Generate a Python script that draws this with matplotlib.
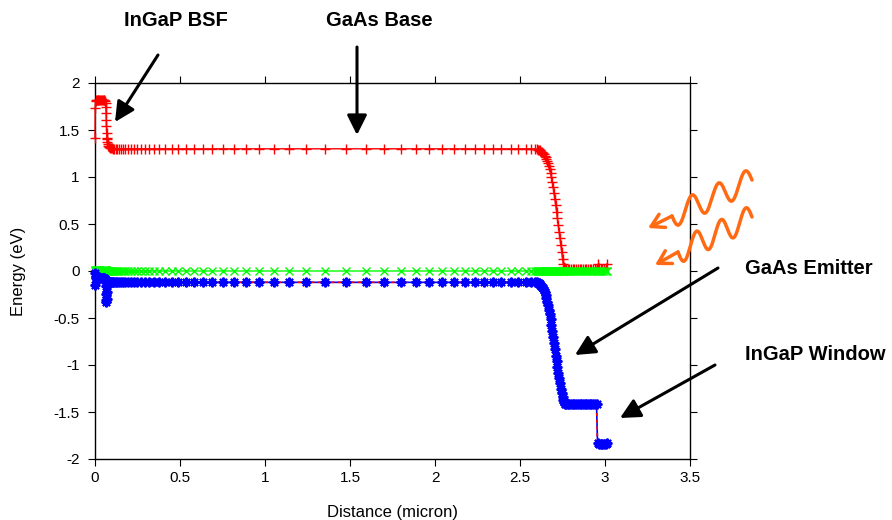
import numpy as np
import matplotlib
matplotlib.use('Agg')
import matplotlib.pyplot as plt
from matplotlib.lines import Line2D
from matplotlib.patches import FancyArrowPatch

plt.rcParams['font.family'] = ['Liberation Sans', 'DejaVu Sans']
plt.rcParams['axes.unicode_minus'] = False

# mesh + band values, per region
# InGaP BSF
x_bsf = [0.000, 0.001, 0.003, 0.006, 0.010, 0.015, 0.020, 0.025, 0.030, 0.035, 0.040, 0.045,
         0.050, 0.055, 0.060, 0.062, 0.064, 0.065, 0.066, 0.067, 0.068, 0.069, 0.070]
ec_bsf = [1.42, 1.73, 1.81, 1.82, 1.82, 1.82, 1.82, 1.82, 1.82, 1.82, 1.82, 1.82,
          1.82, 1.82, 1.81, 1.79, 1.74, 1.68, 1.61, 1.54, 1.47, 1.42, 1.40]
ev_bsf = [-0.15, -0.02, -0.06, -0.07, -0.07, -0.07, -0.07, -0.07, -0.07, -0.07, -0.07, -0.07,
          -0.07, -0.07, -0.08, -0.10, -0.16, -0.24, -0.31, -0.33, -0.30, -0.22, -0.15]
ef_bsf = [0.00, 0.01, 0.01, 0.01, 0.01, 0.01, 0.01, 0.01, 0.01, 0.01, 0.01, 0.01,
          0.01, 0.01, 0.01, 0.01, 0.01, 0.00, 0.00, 0.00, 0.00, 0.00, 0.00]

# GaAs base
x_base = [0.072, 0.074, 0.077, 0.080, 0.084, 0.089, 0.094, 0.100, 0.107, 0.114, 0.122, 0.131,
          0.141, 0.152, 0.164, 0.178, 0.193, 0.210, 0.228, 0.248, 0.270, 0.294, 0.320, 0.348,
          0.379, 0.413, 0.450, 0.490, 0.534, 0.582, 0.634, 0.690, 0.751, 0.817, 0.888, 0.964,
          1.050, 1.142, 1.240, 1.355, 1.476, 1.594, 1.700, 1.800, 1.888, 1.965, 2.041, 2.110,
          2.175, 2.235, 2.290, 2.340, 2.390, 2.445, 2.490, 2.535, 2.565, 2.590]
ec_base = [1.37, 1.35, 1.335, 1.325, 1.317, 1.311, 1.307, 1.304, 1.302, 1.301, 1.30, 1.30,
           1.30, 1.30, 1.30, 1.30, 1.30, 1.30, 1.30, 1.30, 1.30, 1.30, 1.30, 1.30,
           1.30, 1.30, 1.30, 1.30, 1.30, 1.30, 1.30, 1.30, 1.30, 1.30, 1.30, 1.30,
           1.30, 1.30, 1.30, 1.30, 1.30, 1.30, 1.30, 1.30, 1.30, 1.30, 1.30, 1.30,
           1.30, 1.30, 1.30, 1.30, 1.30, 1.30, 1.30, 1.30, 1.30, 1.298]
ev_base = [-0.13, -0.125, -0.122, -0.12, -0.12, -0.12, -0.12, -0.12, -0.12, -0.12, -0.12, -0.12,
           -0.12, -0.12, -0.12, -0.12, -0.12, -0.12, -0.12, -0.12, -0.12, -0.12, -0.12, -0.12,
           -0.12, -0.12, -0.12, -0.12, -0.12, -0.12, -0.12, -0.12, -0.12, -0.12, -0.12, -0.12,
           -0.12, -0.12, -0.12, -0.12, -0.12, -0.12, -0.12, -0.12, -0.12, -0.12, -0.12, -0.12,
           -0.12, -0.12, -0.12, -0.12, -0.12, -0.12, -0.12, -0.12, -0.12, -0.121]
ef_base = [0.00, 0.00, 0.00, 0.00, 0.00, 0.00, 0.00, 0.00, 0.00, 0.00, 0.00, 0.00,
           0.00, 0.00, 0.00, 0.00, 0.00, 0.00, 0.00, 0.00, 0.00, 0.00, 0.00, 0.00,
           0.00, 0.00, 0.00, 0.00, 0.00, 0.00, 0.00, 0.00, 0.00, 0.00, 0.00, 0.00,
           0.00, 0.00, 0.00, 0.00, 0.00, 0.00, 0.00, 0.00, 0.00, 0.00, 0.00, 0.00,
           0.00, 0.00, 0.00, 0.00, 0.00, 0.00, 0.00, 0.00, 0.00, 0.00]

# p-n junction (dense mesh)
x_junc = [2.600, 2.605, 2.610, 2.615, 2.620, 2.625, 2.630, 2.635, 2.640, 2.645, 2.650, 2.655,
          2.660, 2.665, 2.670, 2.675, 2.680, 2.685, 2.690, 2.695, 2.700, 2.705, 2.710, 2.715,
          2.720, 2.725, 2.730, 2.735, 2.740, 2.745, 2.750, 2.755, 2.760, 2.765, 2.770]
ec_junc = [1.295, 1.292, 1.288, 1.283, 1.277, 1.270, 1.262, 1.252, 1.240, 1.226, 1.210, 1.192,
           1.170, 1.145, 1.115, 1.080, 1.040, 0.995, 0.945, 0.890, 0.830, 0.765, 0.700, 0.630,
           0.560, 0.490, 0.420, 0.350, 0.280, 0.205, 0.130, 0.075, 0.045, 0.032, 0.025]
ev_junc = [-0.122, -0.125, -0.130, -0.137, -0.146, -0.157, -0.170, -0.186, -0.205, -0.228, -0.255, -0.288,
           -0.325, -0.365, -0.410, -0.460, -0.515, -0.575, -0.640, -0.705, -0.770, -0.835, -0.900, -0.960,
           -1.020, -1.080, -1.140, -1.195, -1.250, -1.300, -1.345, -1.375, -1.395, -1.410, -1.415]
ef_junc = [0.00, 0.00, 0.00, 0.00, 0.00, 0.00, 0.00, 0.00, 0.00, 0.00, 0.00, 0.00,
           0.00, 0.00, 0.00, 0.00, 0.00, 0.00, 0.00, 0.00, 0.00, 0.00, 0.00, 0.00,
           0.00, 0.00, 0.00, 0.00, 0.00, 0.00, 0.00, 0.00, 0.00, 0.00, 0.00]

# GaAs emitter
x_emit = [2.780, 2.790, 2.800, 2.810, 2.820, 2.830, 2.840, 2.850, 2.860,
          2.870, 2.880, 2.890, 2.900, 2.910, 2.920, 2.930, 2.940, 2.950]
ec_emit = [0.02, 0.02, 0.02, 0.02, 0.02, 0.02, 0.02, 0.02, 0.02,
           0.02, 0.02, 0.02, 0.02, 0.02, 0.02, 0.02, 0.02, 0.02]
ev_emit = [-1.42, -1.42, -1.42, -1.42, -1.42, -1.42, -1.42, -1.42, -1.42,
           -1.42, -1.42, -1.42, -1.42, -1.42, -1.42, -1.42, -1.42, -1.41]
ef_emit = [0.00, 0.00, 0.00, 0.00, 0.00, 0.00, 0.00, 0.00, 0.00,
           0.00, 0.00, 0.00, 0.00, 0.00, 0.00, 0.00, 0.00, 0.00]

# InGaP window
x_win = [2.956, 2.965, 2.975, 2.985, 2.995, 3.005, 3.012]
ec_win = [0.07, 0.03, 0.02, 0.02, 0.02, 0.03, 0.07]
ev_win = [-1.83, -1.84, -1.84, -1.84, -1.84, -1.84, -1.83]
ef_win = [0.00, 0.00, 0.00, 0.00, 0.00, 0.00, 0.00]

xticks = [0, 0.5, 1, 1.5, 2, 2.5, 3, 3.5]
xtick_labels = ['0', '0.5', '1', '1.5', '2', '2.5', '3', '3.5']
yticks = [2, 1.5, 1, 0.5, 0, -0.5, -1, -1.5, -2]
ytick_labels = ['2', '1.5', '1', '0.5', '0', '-0.5', '-1', '-1.5', '-2']

x = np.array(x_bsf + x_base + x_junc + x_emit + x_win)
ec = np.array(ec_bsf + ec_base + ec_junc + ec_emit + ec_win)
ev = np.array(ev_bsf + ev_base + ev_junc + ev_emit + ev_win)
ef = np.array(ef_bsf + ef_base + ef_junc + ef_emit + ef_win)

W, H = 892, 520
fig = plt.figure(figsize=(W / 100, H / 100), dpi=100)
ax = fig.add_axes([95 / W, 1 - 459 / H, (690 - 95) / W, (459 - 83) / H])

ax.plot(x, ec, color='red', lw=1.0, marker='+', ms=7, mew=1.0, zorder=3, clip_on=False)
ax.plot(x, ef, color='#00ff00', lw=1.0, marker='x', ms=6, mew=1.0, zorder=4, clip_on=False)
ax.plot(x, ev, color='blue', lw=1.2, zorder=5, clip_on=False)
ax.plot(x, ev, color='red', lw=1.2, ls=(0, (2, 2)), zorder=5, clip_on=False)
ax.plot(x, ev, ls='none', color='blue', marker=(8, 2, 0), ms=7, mew=1.5, zorder=6, clip_on=False)

ax.set_xlim(0, 3.5)
ax.set_ylim(-2, 2)
ax.set_xticks(xticks)
ax.set_xticklabels(xtick_labels)
ax.set_yticks(yticks)
ax.set_yticklabels(ytick_labels)
ax.tick_params(direction='out', length=5, width=0.8, top=True, right=True, labelsize=11)
ax.tick_params(axis='y', pad=6)
ax.tick_params(axis='x', pad=4)
for s in ax.spines.values():
    s.set_linewidth(1.0)
ax.set_xlabel('Distance (micron)', fontsize=12, labelpad=14)
ax.set_ylabel('Energy (eV)', fontsize=12, labelpad=20)


def fp(px, py):
    return (px / W, 1 - py / H)


def label(px, py, txt, ha='center'):
    fig.text(px / W, 1 - py / H, txt, ha=ha, va='center', fontsize=14.5, fontweight='bold')


def arrow(tail, head):
    fig.add_artist(FancyArrowPatch(fp(*tail), fp(*head), transform=fig.transFigure,
                                   arrowstyle='-|>,head_length=0.8,head_width=0.4',
                                   mutation_scale=15, lw=2.2, color='black',
                                   shrinkA=0, shrinkB=0))


label(176, 20, 'InGaP BSF')
label(379, 20, 'GaAs Base')
label(745, 268, 'GaAs Emitter', ha='left')
label(745, 355, 'InGaP Window', ha='left')
arrow((158, 55), (115, 122))
arrow((357, 47), (357, 135))
arrow((718, 268), (575, 355))
arrow((715, 365), (620, 418))

orange = '#ff6a12'


def wave(a, b, head, amp=12, periods=3):
    t = np.linspace(0, 1, 300)
    xs = a[0] + (b[0] - a[0]) * t
    ys = a[1] + (b[1] - a[1]) * t - amp * np.sin(2 * np.pi * periods * t)
    fig.add_artist(Line2D(xs / W, 1 - ys / H, transform=fig.transFigure, color=orange,
                          lw=2.5, solid_capstyle='round'))
    fig.add_artist(FancyArrowPatch(fp(*b), fp(*head), transform=fig.transFigure,
                                   arrowstyle='->,head_length=0.6,head_width=0.35',
                                   mutation_scale=15, lw=2.5, color=orange,
                                   shrinkA=0, shrinkB=0))


wave((752, 180), (672, 216), (648, 228))
wave((752, 217), (678, 252), (655, 265))

fig.savefig('out.png', dpi=100)
